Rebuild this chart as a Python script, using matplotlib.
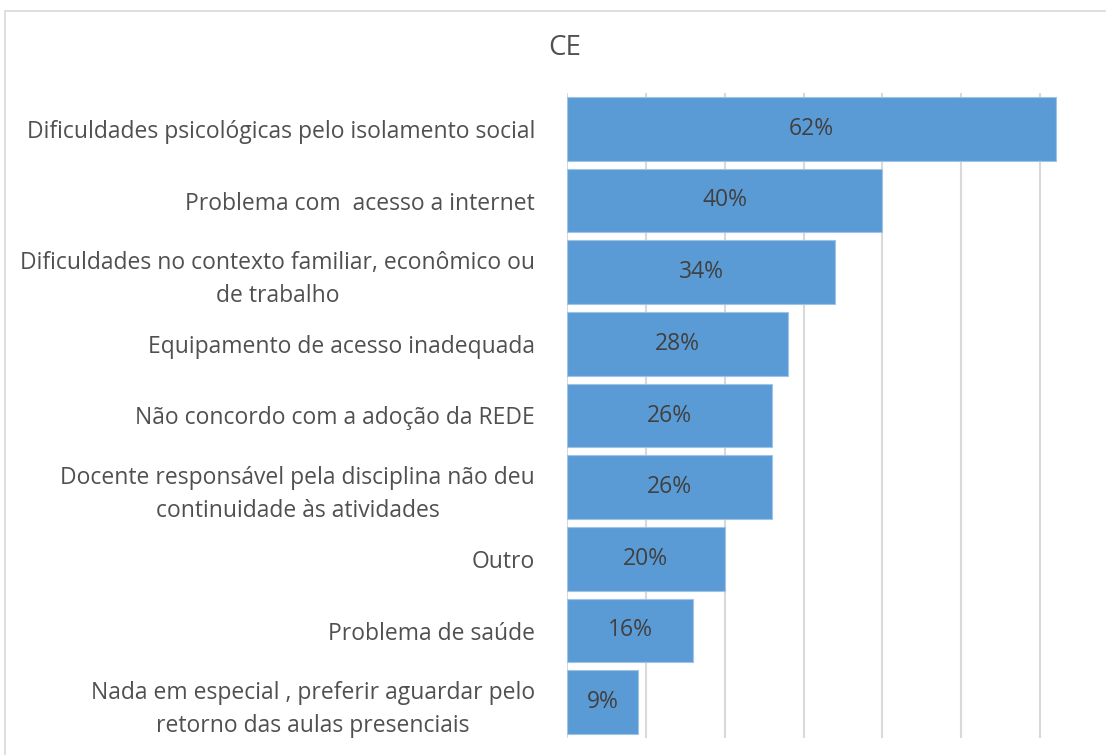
import matplotlib
matplotlib.use('Agg')
import matplotlib.pyplot as plt
from matplotlib.patches import Rectangle

# Data
categories = [
    'Dificuldades psicológicas pelo isolamento social',
    'Problema com  acesso a internet',
    'Dificuldades no contexto familiar, econômico ou\nde trabalho',
    'Equipamento de acesso inadequada',
    'Não concordo com a adoção da REDE',
    'Docente responsável pela disciplina não deu\ncontinuidade às atividades',
    'Outro',
    'Problema de saúde',
    'Nada em especial , preferir aguardar pelo\nretorno das aulas presenciais',
]
values = [0.62, 0.40, 0.34, 0.28, 0.26, 0.26, 0.20, 0.16, 0.09]
x_ticks = [0.0, 0.1, 0.2, 0.3, 0.4, 0.5, 0.6, 0.7]

BAR = '#5b9bd5'
BAR_EDGE = '#9dc3e6'
GRID = '#d9d9d9'
TEXT = '#505050'

plt.rcParams['font.family'] = ['Open Sans', 'DejaVu Sans']

fig = plt.figure(figsize=(11.06, 7.55), dpi=100, facecolor='white')

# chart frame (cropped at right/bottom)
fig.patches.append(Rectangle((5 / 1106, -0.01), 1.2, (755 - 11) / 755 + 0.01,
                             transform=fig.transFigure, fill=False,
                             edgecolor=GRID, linewidth=1.2))

ax = fig.add_axes([567 / 1106, 17 / 755, 552 / 1106, 645 / 755])
ypos = list(range(len(categories)))
bars = ax.barh(ypos, values, height=0.89, color=BAR, edgecolor=BAR_EDGE,
               linewidth=0.8, zorder=3)
for b, v in zip(bars, values):
    ax.text(b.get_width() / 2, b.get_y() + b.get_height() / 2,
            f'{round(v * 100):d}%', ha='center', va='center',
            color='#404040', fontsize=16.5, zorder=4)

ax.set_ylim(len(categories) - 0.5, -0.5)
ax.set_xlim(0, 0.7)
ax.set_xticks(x_ticks)
ax.set_xticklabels([])
ax.set_yticks(ypos)
ax.set_yticklabels(categories, fontsize=16.5, color=TEXT,
                   multialignment='center', linespacing=1.5)
ax.tick_params(axis='both', length=0)
ax.tick_params(axis='y', pad=23)
ax.grid(axis='x', color=GRID, linewidth=1.5, zorder=0)
for s in ax.spines.values():
    s.set_visible(False)

fig.text(565 / 1106, 1 - 48 / 755, 'CE', ha='center', va='center',
         fontsize=20, color=TEXT)

fig.savefig('out.png', dpi=100, facecolor='white')
